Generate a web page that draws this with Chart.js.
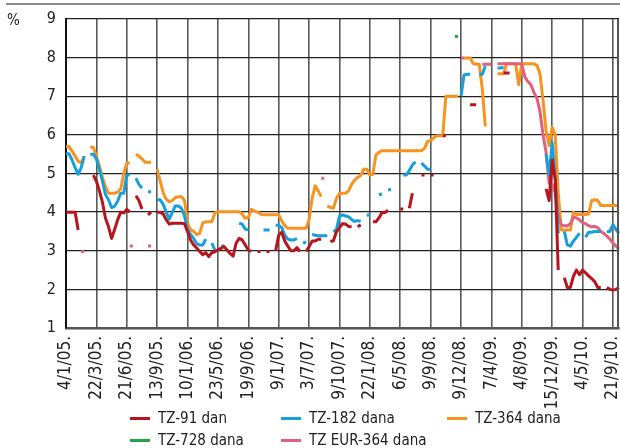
<!DOCTYPE html>
<html lang="hr">
<head>
<meta charset="UTF-8">
<title>Kamatne stope na trezorske zapise</title>
<script src="https://cdn.jsdelivr.net/npm/chart.js"></script>
<style>
  body { margin: 0; background: #fff; }
  #wrap { position: relative; width: 620px; height: 448px; font-family: "Liberation Sans Narrow", "DejaVu Sans Condensed", sans-serif; color: #222; }
  #c { position: absolute; left: 0; top: 0; }
  #topline { position: absolute; left: 6px; right: 0; top: 3px; height: 2px; background: #8c8c8c; }
  #unit { position: absolute; left: 7px; top: 11px; font-size: 15px; }
  .lg { position: absolute; display: flex; align-items: center; height: 20px; font-size: 15px; white-space: nowrap; }
  .lg i { display: inline-block; width: 20px; height: 3px; margin-right: 8px; }
</style>
</head>
<body>
<div id="wrap">
  <canvas id="c" width="620" height="448"></canvas>
  <div id="topline"></div>
  <div id="unit">%</div>
  <div id="legend"></div>
</div>
<script>
const _ = null;

// oznake na osi x (svaka 10. aukcija)
const tickLabels = ['4/1/05.', '22/3/05.', '21/6/05.', '13/9/05.', '10/1/06.', '23/5/06.', '19/9/06.',
  '9/1/07.', '3/7/07.', '9/10/07.', '22/1/08.', '6/5/08.', '9/9/08.', '9/12/08.', '7/4/09.',
  '4/8/09.', '15/12/09.', '4/5/10.', '21/9/10.'];
const STEP = 10;

const seriesNames = ['TZ-91 dan', 'TZ-182 dana', 'TZ-364 dana', 'TZ-728 dana', 'TZ EUR-364 dana'];

const tz91 = [
  4.0, 4.0, 4.0, 4.0, 3.54, _, _, _, _, 4.96,
  4.8, 4.55, 4.25, 3.84, 3.62, 3.32, 3.55, 3.8, 4.0, 3.98,
  4.07, 4.0, _, 4.42, 4.3, 4.08, _, 3.93, 4.0, _,
  4.0, 4.0, 3.95, 3.8, 3.69, 3.71, 3.71, 3.71, 3.71, 3.7,
  3.49, 3.28, 3.15, 3.07, 2.98, 2.9, 2.95, 2.85, 2.95, 2.97,
  3.03, 3.06, 3.11, 3.02, 2.93, 2.86, 3.2, 3.32, 3.28, 3.15,
  3.02, 2.98, _, 2.98, 2.98, _, 2.98, 2.98, _, 3.0,
  3.4, 3.48, 3.25, 3.12, 3.0, 3.0, 3.08, 2.98, _, 2.98,
  3.1, 3.25, 3.25, 3.3, 3.3, _, _, 3.24, 3.26, 3.49,
  3.6, 3.7, 3.69, 3.63, 3.62, _, 3.62, 3.67, _, _,
  _, 3.75, 3.75, 3.85, 3.99, 3.99, 4.05, _, _, _,
  4.08, 4.08, _, 4.1, 4.49, _, _, 4.96, 4.96, _,
  4.96, 4.96, _, _, 5.98, 5.98, _, _, _, _,
  _, _, _, 6.78, 6.78, 6.78, _, _, _, _,
  _, _, _, _, 7.6, 7.6, 7.6, _, _, _,
  _, _, _, _, _, _, _, _, 4.6, 4.3,
  5.35, 4.85, 2.5, _, 2.3, 2.05, 2.05, 2.34, 2.5, 2.38,
  2.5, 2.43, 2.35, 2.28, 2.2, 2.05, 2.05, _, 2.05, 2.0,
  1.98, 2.0, 2.05
];

const tz182 = [
  5.51, 5.51, 5.35, 5.15, 4.98, 5.15, 5.45, _, 5.5, 5.5,
  5.38, 5.1, 4.8, 4.45, 4.32, 4.12, 4.15, 4.28, 4.49, 4.49,
  4.96, 4.96, _, 4.88, 4.72, 4.62, _, 4.53, 4.53, _,
  4.32, 4.32, 4.2, 4.0, 3.82, 4.0, 4.16, 4.16, 4.1, 3.9,
  3.55, 3.42, 3.32, 3.18, 3.15, 3.15, 3.3, _, 3.2, 3.02,
  _, 3.11, 3.13, _, _, _, _, 3.71, 3.69, 3.56,
  3.54, _, _, _, _, 3.54, 3.54, 3.54, _, 3.66,
  3.66, 3.6, 3.4, 3.3, 3.28, 3.28, 3.32, _, 3.22, 3.2,
  _, 3.43, 3.4, 3.39, 3.39, 3.39, 3.39, _, 3.49, 3.55,
  3.9, 3.93, 3.9, 3.88, 3.81, 3.76, 3.78, 3.76, _, 3.92,
  3.93, _, _, 4.45, 4.47, _, 4.58, 4.58, _, _,
  _, 4.96, 4.96, 5.08, 5.22, 5.3, _, 5.27, 5.19, 5.11,
  5.11, _, _, _, _, _, _, _, _, _,
  7.0, 7.55, 7.57, 7.57, _, _, 7.57, 7.57, 7.78, _,
  _, _, 7.73, 7.73, 7.75, _, _, _, _, _,
  _, _, _, _, _, _, _, _, 5.5, 4.96,
  5.8, 4.9, 3.45, _, 3.5, 3.15, 3.12, 3.25, 3.35, 3.45,
  _, 3.35, 3.48, 3.48, 3.5, 3.5, 3.5, _, 3.5, 3.5,
  3.68, 3.55, 3.45
];

const tz364 = [
  5.69, 5.7, 5.58, 5.45, 5.32, 5.27, 5.45, _, 5.68, 5.68,
  5.45, 5.2, 4.9, 4.65, 4.49, 4.49, 4.49, 4.52, 4.6, 5.0,
  5.27, 5.27, _, 5.5, 5.45, 5.38, 5.29, 5.29, 5.29, _,
  5.11, 4.8, 4.5, 4.33, 4.27, 4.3, 4.38, 4.4, 4.4, 4.3,
  3.72, 3.54, 3.5, 3.42, 3.45, 3.72, 3.75, 3.75, 3.75, 3.98,
  4.01, 4.01, 4.01, 4.01, 4.01, 4.01, 4.01, 4.01, 3.95, 3.84,
  3.86, 4.07, 4.03, 4.0, 3.95, 3.93, 3.93, 3.93, 3.93, 3.93,
  3.93, 3.77, 3.65, 3.58, 3.58, 3.58, 3.58, 3.58, 3.58, 3.58,
  3.8, 4.35, 4.68, 4.55, 4.4, _, 4.16, 4.12, 4.1, 4.35,
  4.49, 4.49, 4.49, 4.55, 4.72, 4.83, 4.9, 4.95, 5.11, 5.11,
  4.96, 4.98, 5.48, 5.55, 5.59, 5.59, 5.59, 5.59, 5.59, 5.59,
  5.59, 5.59, 5.59, 5.59, 5.59, 5.59, 5.59, 5.59, 5.65, 5.83,
  5.85, 5.92, 5.98, 5.98, 5.98, 7.0, 7.0, 7.0, 7.0, 7.0,
  _, 7.99, 7.99, 7.99, 7.85, 7.83, 7.83, 7.2, 6.22, _,
  _, _, 7.58, 7.58, 7.58, 7.84, 7.84, 7.84, 7.84, 7.3,
  7.84, 7.84, 7.84, 7.84, 7.84, 7.8, 7.58, 6.9, 6.1, 5.72,
  6.2, 6.0, 4.5, 3.54, 3.54, 3.54, 3.54, 4.0, 3.94, 3.94,
  3.94, 3.94, 3.95, 4.3, 4.32, 4.3, 4.17, 4.17, 4.17, 4.17,
  4.17, 4.17, 4.17
];

const tz728 = [
  _, _, _, _, _, _, _, _, _, _,
  _, _, _, _, _, _, _, _, _, _,
  _, _, _, _, _, _, _, _, _, _,
  _, _, _, _, _, _, _, _, _, _,
  _, _, _, _, _, _, _, _, _, _,
  _, _, _, _, _, _, _, _, _, _,
  _, _, _, _, _, _, _, _, _, _,
  _, _, _, _, _, _, _, _, _, _,
  _, _, _, _, _, _, _, _, _, _,
  _, _, _, _, _, _, _, _, _, _,
  _, _, _, _, _, _, _, _, _, _,
  _, _, _, _, _, _, _, _, _, _,
  _, _, _, _, _, _, _, _, 8.55, 8.55,
  _, _, _, _, _, _, _, _, _, _,
  _, _, _, _, _, _, _, _, _, _,
  _, _, _, _, _, _, _, _, _, _,
  _, _, _, _, _, _, _, _, _, _,
  _, _, _, _, _, _, _, _, _, _,
  _, _, _
];

const eur364 = [
  _, _, _, _, _, 2.98, 2.98, _, _, _,
  _, _, _, _, _, _, _, _, _, _,
  _, 3.12, 3.12, _, _, _, _, 3.12, 3.12, _,
  _, _, _, _, _, _, _, _, _, _,
  _, _, _, _, _, _, _, _, _, _,
  _, _, _, _, _, _, _, _, _, _,
  _, _, _, _, _, _, _, _, _, _,
  _, _, _, _, _, _, _, _, _, _,
  _, _, _, _, 4.88, 4.88, _, _, _, _,
  _, _, _, _, _, _, _, _, _, _,
  _, _, _, _, _, _, _, _, _, _,
  _, _, _, _, _, _, _, _, _, _,
  _, _, _, _, _, _, _, _, _, _,
  7.99, 7.99, _, _, _, _, _, 7.83, 7.83, 7.83,
  7.83, _, 7.84, 7.84, 7.84, 7.84, 7.84, 7.84, 7.84, 7.84,
  7.84, 7.5, 7.38, 7.3, 7.1, 6.95, 6.6, 6.0, 5.55, 4.75,
  4.72, 4.5, 3.9, 3.67, 3.65, 3.65, 3.7, 3.87, 3.85, 3.8,
  3.73, 3.7, 3.65, 3.62, 3.63, 3.6, 3.5, 3.45, 3.38, 3.3,
  3.2, 3.12, 3.05
];

const colors = ['#b8141e', '#15a0da', '#f7931e', '#1fa64a', '#e0607e'];
// redoslijed crtanja: manji broj je iznad
const drawOrder = [0, 1, 4, 3, 2];
const legendPos = [[130, 408], [281, 408], [447, 408], [130, 430], [281, 430]];

const labels = [];
for (let i = 0; i < tz91.length; i++) {
  labels.push(i % STEP === 0 ? tickLabels[i / STEP] : '');
}

const series = [tz91, tz182, tz364, tz728, eur364];
const datasets = series.map((d, k) => ({
  label: seriesNames[k],
  data: d,
  borderColor: colors[k],
  backgroundColor: colors[k],
  order: drawOrder[k]
}));

// legenda
const legendEl = document.getElementById('legend');
seriesNames.forEach((name, k) => {
  const div = document.createElement('div');
  div.className = 'lg';
  div.style.left = legendPos[k][0] + 'px';
  div.style.top = legendPos[k][1] + 'px';
  div.innerHTML = `<i style="background:${colors[k]}"></i>${name}`;
  legendEl.appendChild(div);
});

const tickFont = { family: '"Liberation Sans Narrow", "DejaVu Sans Condensed", sans-serif', size: 16 };

const rightBorder = {
  id: 'rightBorder',
  afterDraw(chart) {
    const a = chart.chartArea, ctx = chart.ctx;
    ctx.save();
    ctx.strokeStyle = '#555';
    ctx.lineWidth = 2;
    ctx.beginPath();
    ctx.moveTo(a.right - 1, a.top);
    ctx.lineTo(a.right - 1, a.bottom);
    ctx.stroke();
    ctx.restore();
  }
};

new Chart(document.getElementById('c'), {
  type: 'line',
  data: { labels, datasets },
  plugins: [rightBorder],
  options: {
    responsive: false,
    animation: false,
    layout: { padding: { top: 19, right: 1, left: 0, bottom: 0 } },
    plugins: { legend: { display: false }, tooltip: { enabled: false } },
    elements: {
      point: { radius: 0 },
      line: { borderWidth: 3, tension: 0, borderJoinStyle: 'round' }
    },
    scales: {
      x: {
        grid: {
          color: c => (c.tick && c.tick.label) ? '#5a5a5a' : 'rgba(0,0,0,0)',
          lineWidth: 1.6,
          drawTicks: false
        },
        border: { color: '#555', width: 2.5 },
        ticks: {
          autoSkip: false,
          minRotation: 90,
          maxRotation: 90,
          padding: 8,
          color: '#222',
          font: { ...tickFont, size: 17 },
          callback: function (v) { return this.getLabelForValue(v); }
        },
        afterFit(s) { s.height = 120; s.paddingLeft = 0; s.paddingRight = 0; }
      },
      y: {
        min: 1,
        max: 9,
        grid: { color: '#222', lineWidth: 1.3, drawTicks: false },
        border: { color: '#111', width: 2 },
        ticks: { stepSize: 1, padding: 10, color: '#222', font: tickFont },
        afterFit(s) { s.width = 66; s.paddingTop = 0; s.paddingBottom = 0; }
      }
    }
  }
});
</script>
</body>
</html>
